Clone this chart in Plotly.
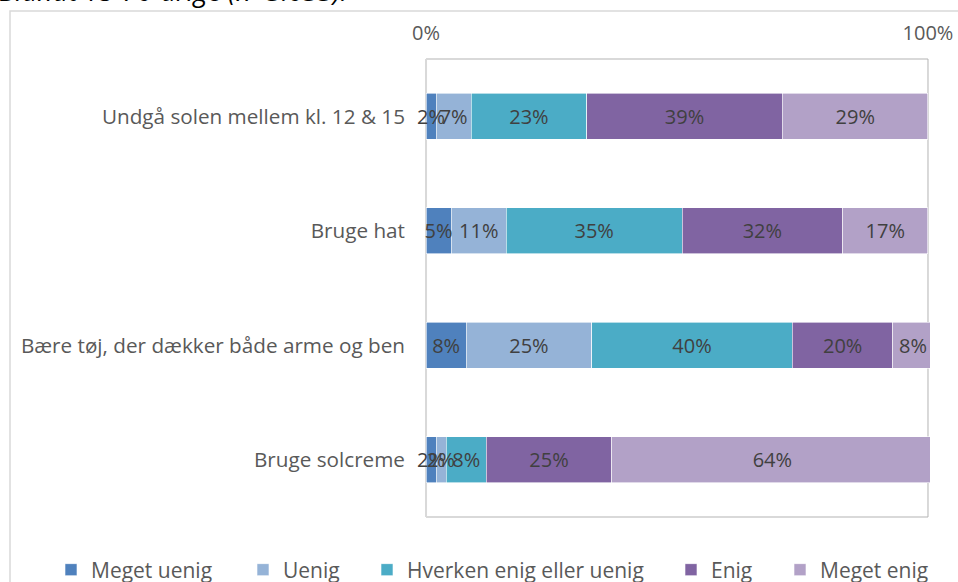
import plotly.graph_objects as go

# Survey statements (top to bottom) and answer categories
statements = [
    "Undgå solen mellem kl. 12 & 15",
    "Bruge hat",
    "Bære tøj, der dækker både arme og ben",
    "Bruge solcreme",
]
answers = ["Meget uenig", "Uenig", "Hverken enig eller uenig", "Enig", "Meget enig"]

# Share of respondents (%) per answer, one list per answer category
meget_uenig = [2, 5, 8, 2]
uenig = [7, 11, 25, 2]
hverken = [23, 35, 40, 8]
enig = [39, 32, 20, 25]
meget_enig = [29, 17, 8, 64]

series = [meget_uenig, uenig, hverken, enig, meget_enig]
colors = ["#4f81bd", "#95b3d7", "#4bacc6", "#8064a2", "#b2a1c7"]

x_tickvals = [0, 100]
x_ticktext = ["0%", "100%"]

title_text = "Blandt 15-70-årige (n=3.033)."

FONT = "Open Sans"
W, H = 958, 582
# a little room either side of 0-100 % so narrow labels and rounded totals are not cut
X_RANGE = [-2, 100.4]
L, R, T, B = 416, 28, 59, 65
PW, PH = W - L - R, H - T - B

# legend text left edges (px) for each answer
legend_text_px = [89, 281, 405, 709, 818]
legend_y_px = 570


def px_to_paper_x(p):
    return (p - L) / PW


def px_to_paper_y(p):
    return 1 - (p - T) / PH


fig = go.Figure()

# coloured segments
for i, (name, vals, col) in enumerate(zip(answers, series, colors)):
    fig.add_trace(go.Bar(
        y=statements,
        x=vals,
        name=name,
        orientation="h",
        marker=dict(color=col, line=dict(color="#ffffff", width=0.6)),
        legend="legend" if i == 0 else f"legend{i + 1}",
        hoverinfo="skip",
    ))

# value labels on an overlaid axis so every label sits above all segments
for name, vals in zip(answers, series):
    fig.add_trace(go.Bar(
        y=statements,
        x=vals,
        name=name,
        orientation="h",
        yaxis="y2",
        marker=dict(color="rgba(0,0,0,0)", line=dict(width=0)),
        text=[f"{v}%" for v in vals],
        textposition="inside",
        insidetextanchor="middle",
        textangle=0,
        textfont=dict(family=FONT, size=20, color="#404040"),
        constraintext="none",
        showlegend=False,
        hoverinfo="skip",
    ))

legend_common = dict(
    orientation="h",
    xref="container",
    yref="container",
    yanchor="middle",
    xanchor="left",
    bgcolor="rgba(0,0,0,0)",
    borderwidth=0,
    font=dict(family=FONT, size=21, color="#595959"),
    itemwidth=30,
)
legends = {}
for i, p in enumerate(legend_text_px):
    key = "legend" if i == 0 else f"legend{i + 1}"
    legends[key] = dict(legend_common, x=(p - 38) / W, y=1 - legend_y_px / H)

shapes = [
    # outer chart frame
    dict(
        type="rect",
        xref="paper", yref="paper",
        x0=px_to_paper_x(10), x1=px_to_paper_x(W + 20),
        y0=px_to_paper_y(H + 20), y1=px_to_paper_y(11),
        line=dict(color="#d9d9d9", width=1.5),
        fillcolor="rgba(0,0,0,0)",
        layer="below",
    ),
    # plot box spanning 0-100 %
    dict(
        type="rect",
        xref="x", yref="paper",
        x0=0, x1=100, y0=0, y1=1,
        line=dict(color="#b3b3b3", width=1),
        fillcolor="rgba(0,0,0,0)",
        layer="below",
    ),
    # category axis line at 0 %
    dict(
        type="line",
        xref="x", yref="paper",
        x0=0, x1=0, y0=0, y1=1,
        line=dict(color="#d9d9d9", width=2),
        layer="below",
    ),
]

fig.update_layout(
    width=W,
    height=H,
    margin=dict(l=L, r=R, t=T, b=B, autoexpand=False),
    paper_bgcolor="#ffffff",
    plot_bgcolor="#ffffff",
    barmode="stack",
    bargap=0.598,
    showlegend=True,
    uniformtext=dict(mode="show", minsize=20),
    xaxis=dict(
        side="top",
        range=X_RANGE,
        tickvals=x_tickvals,
        ticktext=x_ticktext,
        showgrid=False,
        zeroline=False,
        showline=False,
        ticks="",
        ticklabelstandoff=14,
        tickfont=dict(family=FONT, size=20, color="#595959"),
        fixedrange=True,
    ),
    yaxis=dict(
        autorange="reversed",
        categoryorder="array",
        categoryarray=statements,
        showgrid=False,
        zeroline=False,
        showline=False,
        ticks="",
        ticklabelstandoff=10,
        tickfont=dict(family=FONT, size=20.7, color="#595959"),
        fixedrange=True,
    ),
    yaxis2=dict(
        overlaying="y",
        autorange="reversed",
        categoryorder="array",
        categoryarray=statements,
        showgrid=False,
        zeroline=False,
        showline=False,
        showticklabels=False,
        ticks="",
        fixedrange=True,
    ),
    shapes=shapes,
    annotations=[dict(
        text=f"<i>{title_text}</i>",
        xref="paper", yref="paper",
        x=px_to_paper_x(-3), y=px_to_paper_y(11),
        xanchor="left", yanchor="bottom",
        showarrow=False,
        font=dict(family=FONT, size=27, color="#000000"),
    )],
    **legends,
)

fig.write_html("out.html")
